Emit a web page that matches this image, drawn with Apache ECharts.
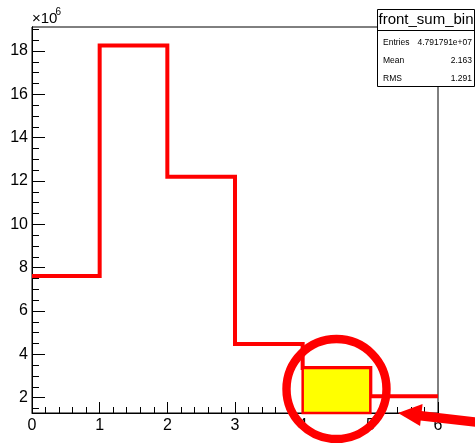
<!DOCTYPE html>
<html>
<head>
<meta charset="utf-8">
<script src="https://cdn.jsdelivr.net/npm/echarts@6/dist/echarts.min.js"></script>
<style>
  html, body { margin: 0; padding: 0; background: #fff; }
  #chart { width: 475px; height: 443px; }
</style>
</head>
<body>
<div id="chart"></div>
<script>
// Histogram "front_sum_bin": bin edges and contents (units of 1e6)
const binEdges = [0, 1, 2, 3, 4, 5, 6];
const binValues = [7.62, 18.26, 12.2, 4.48, 3.37, 2.07];
const highlightBin = 4;              // bin [4,5] drawn filled
const yMajorTicks = [2, 4, 6, 8, 10, 12, 14, 16, 18];
const yMinorTicks = [1.5, 2.5, 3, 3.5, 4.5, 5, 5.5, 6.5, 7, 7.5, 8.5, 9, 9.5, 10.5, 11, 11.5,
                     12.5, 13, 13.5, 14.5, 15, 15.5, 16.5, 17, 17.5, 18.5, 19];
const statsTitle = 'front_sum_bin';
const statsNames = ['Entries', 'Mean', 'RMS'];
const statsValues = ['4.791791e+07', '2.163', '1.291'];

const Y_MIN = 1.294, Y_MAX = 19.11;
const FONT = '"Liberation Sans", Arial, Helvetica, sans-serif';

// step-line points: each bin's left edge, plus the final right edge
const stepData = binValues.map((v, i) => [binEdges[i], v]);
stepData.push([binEdges[binEdges.length - 1], binValues[binValues.length - 1]]);

const chart = echarts.init(document.getElementById('chart'), null, { renderer: 'canvas' });

const yAxisBase = {
  type: 'value', min: Y_MIN, max: Y_MAX, position: 'left',
  splitLine: { show: false },
  axisLine: { show: true, lineStyle: { color: '#000', width: 1 } }
};

chart.setOption({
  animation: false,
  backgroundColor: '#fff',
  grid: { left: 32, top: 27, right: 37, bottom: 30, show: true, borderColor: '#000', borderWidth: 1 },
  xAxis: {
    type: 'value', min: 0, max: 6, interval: 1,
    axisLine: { show: true, lineStyle: { color: '#000', width: 1 } },
    axisTick: { show: true, inside: true, length: 11, lineStyle: { color: '#000' } },
    minorTick: { show: true, splitNumber: 5, length: 6, lineStyle: { color: '#000' } },
    splitLine: { show: false },
    axisLabel: { color: '#000', fontSize: 16, fontFamily: FONT, margin: 5 }
  },
  yAxis: [
    Object.assign({}, yAxisBase, {
      axisTick: { show: true, inside: true, length: 13, customValues: yMajorTicks, lineStyle: { color: '#000' } },
      axisLabel: { color: '#000', fontSize: 16, fontFamily: FONT, margin: 4, customValues: yMajorTicks }
    }),
    Object.assign({}, yAxisBase, {
      axisTick: { show: true, inside: true, length: 7, customValues: yMinorTicks, lineStyle: { color: '#000' } },
      axisLabel: { show: false, customValues: yMinorTicks }
    })
  ],
  series: [
    {
      type: 'line', step: 'end', data: stepData, symbol: 'none', z: 2,
      lineStyle: { color: '#ff0000', width: 4, join: 'miter' }
    },
    {
      type: 'custom', z: 3,
      data: [[binEdges[highlightBin], binEdges[highlightBin + 1], binValues[highlightBin]]],
      renderItem: function (params, api) {
        const p0 = api.coord([api.value(0), Y_MIN]);
        const p1 = api.coord([api.value(1), api.value(2)]);
        return {
          type: 'rect',
          shape: { x: p0[0], y: p1[1], width: p1[0] - p0[0], height: p0[1] - p1[1] },
          style: { fill: '#ffff00', stroke: '#ff0000', lineWidth: 2.5 }
        };
      }
    }
  ]
});

// Annotations: circle around the filled bin and an arrow pointing at it
const centre = chart.convertToPixel({ gridIndex: 0 }, [4.5, 2.4]);
const tip = chart.convertToPixel({ gridIndex: 0 }, [5.41, Y_MIN]);
const statsX = 377, statsY = 9;

const graphics = [
  {
    type: 'circle', z: 10,
    shape: { cx: centre[0], cy: centre[1], r: 50 },
    style: { fill: null, stroke: '#ff0000', lineWidth: 8.4 }
  },
  {
    type: 'line', z: 10,
    shape: { x1: tip[0] + 16, y1: tip[1] + 2, x2: tip[0] + 85, y2: tip[1] + 10 },
    style: { stroke: '#ff0000', lineWidth: 9.5 }
  },
  {
    type: 'polygon', z: 10,
    shape: { points: [[tip[0], tip[1]], [tip[0] + 24.5, tip[1] - 9], [tip[0] + 22, tip[1] + 13]] },
    style: { fill: '#ff0000' }
  },
  // "x10^6" exponent above the y axis
  {
    type: 'text', z: 10, x: 32, y: 26,
    style: {
      text: '×10', fontSize: 15, fontFamily: FONT, fill: '#000',
      align: 'left', verticalAlign: 'bottom'
    }
  },
  {
    type: 'text', z: 10, x: 55.5, y: 17,
    style: {
      text: '6', fontSize: 10, fontFamily: FONT, fill: '#000',
      align: 'left', verticalAlign: 'bottom'
    }
  },
  // statistics box
  {
    type: 'rect', z: 20,
    shape: { x: statsX + 0.5, y: statsY + 0.5, width: 97, height: 77 },
    style: { fill: '#fff', stroke: '#000', lineWidth: 1 }
  },
  {
    type: 'line', z: 21,
    shape: { x1: statsX, y1: 30.5, x2: 475, y2: 30.5 },
    style: { stroke: '#000', lineWidth: 1 }
  },
  {
    type: 'text', z: 21, x: statsX + 49, y: 20,
    style: { text: statsTitle, fontSize: 15, fontFamily: FONT, fill: '#000', align: 'center', verticalAlign: 'middle' }
  }
];
const rowY = [42.5, 60.5, 78.5];
statsNames.forEach((name, i) => {
  graphics.push({
    type: 'text', z: 21, x: statsX + 6, y: rowY[i],
    style: { text: name, fontSize: 8.5, fontFamily: FONT, fill: '#000', align: 'left', verticalAlign: 'middle' }
  });
  graphics.push({
    type: 'text', z: 21, x: 472, y: rowY[i],
    style: { text: statsValues[i], fontSize: 8.5, fontFamily: FONT, fill: '#000', align: 'right', verticalAlign: 'middle' }
  });
});

chart.setOption({ graphic: graphics });
</script>
</body>
</html>
